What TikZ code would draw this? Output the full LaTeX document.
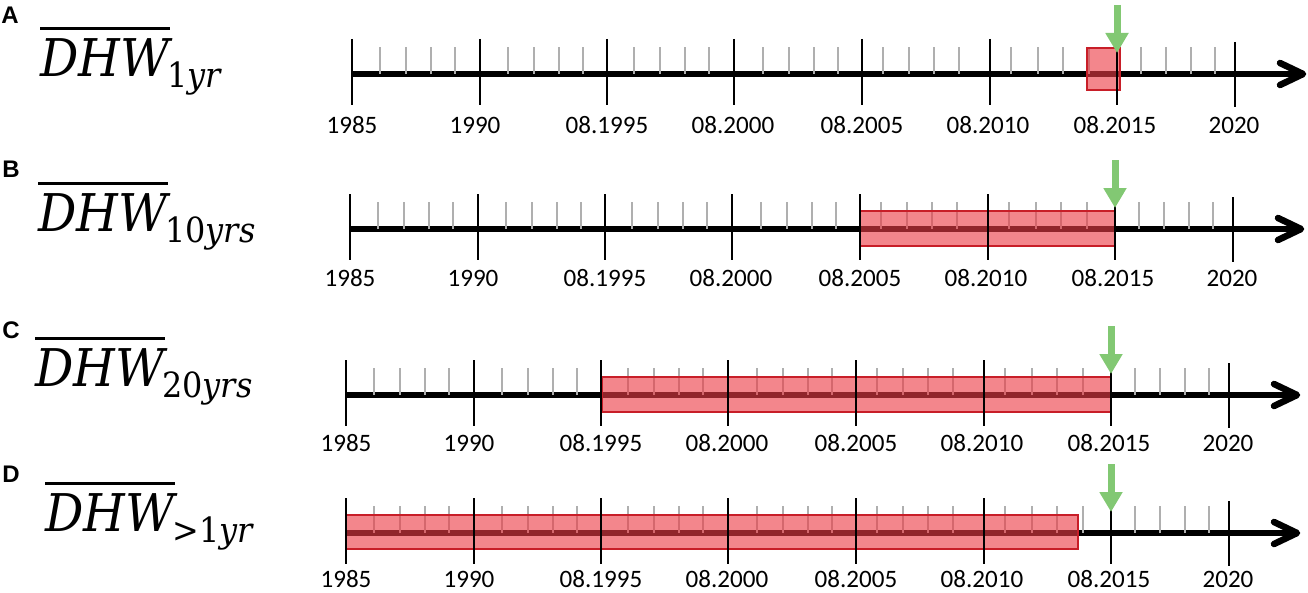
\documentclass[tikz,border=0pt]{standalone}
\usepackage{fontspec}
\newfontfamily\lblfont{Carlito}
\newfontfamily\letterfont{Liberation Sans}
\newfontfamily\dhwfont{DejaVu Serif}[FakeStretch=0.92]
\usetikzlibrary{arrows.meta}
\definecolor{boxfill}{RGB}{235,60,70}
\definecolor{boxline}{RGB}{200,30,40}
\definecolor{minorgray}{RGB}{175,175,175}
\definecolor{arrowgreen}{RGB}{130,200,115}
\tikzset{
  axisline/.style={line width=4.9pt, black},
  axishead/.style={line width=4.9pt, black, line cap=round, line join=round},
  minortick/.style={line width=1.8pt, minorgray},
  majortick/.style={line width=2.2pt, black},
  redbox/.style={fill=boxfill, fill opacity=0.62, draw=boxline, draw opacity=1, line width=1.8pt},
  greenarrow/.style={line width=5.25pt, arrowgreen, -{Triangle[width=16.5pt,length=15pt]}},
  yearlabel/.style={inner sep=0pt, font=\lblfont\fontsize{18.8}{21}\selectfont},
  dhwmain/.style={inner sep=0pt, anchor=base west, font=\dhwfont\itshape\fontsize{39}{42}\selectfont},
  dhwsub/.style={inner sep=0pt, anchor=base west, font=\dhwfont\fontsize{26}{29}\selectfont},
  overbar/.style={line width=1.6pt, black},
  panelletter/.style={inner sep=0pt, anchor=base west, font=\letterfont\bfseries\fontsize{18}{21}\selectfont}
}
% #1 id, #2 axis y, #3 base x, #4 box left, #5 box right, #6 box top, #7 box bottom, #8 label offset
\newcommand\tlpanel[8]{%
  \begin{scope}[shift={(#3,#2)}]
    \draw[axisline] (0,0) -- (951,0);
    \coordinate (hu#1) at (928,-11);
    \coordinate (ht#1) at (951,0);
    \coordinate (hd#1) at (928,11);
    \draw[axishead] (hu#1) -- (ht#1) -- (hd#1);
    \foreach \m in {28,54,79,103,156,182,207,231,282,308,333,357,411,437,462,486,531,557,582,607,659,686,711,737,789,814,839,863}{
      \draw[minortick] (\m,0) -- (\m,-27);
    }
    \draw[redbox] (#4,#6) rectangle (#5,#7);
    \foreach \M/\lab/\dx in {0/1985/0,128/1990/-5,255/08.1995/0,382/08.2000/-1,510/08.2005/0,638/08.2010/-2,765/08.2015/-2}{
      \draw[majortick] (\M,-35) -- (\M,31);
      \node[yearlabel] (y#1\M) at (\M+\dx,#8) {\lab};
    }
    \draw[majortick] (883,-32) -- (883,33);
    \node[yearlabel] (y#1end) at (882,#8) {2020};
    \coordinate (gs#1) at (765,-69);
    \coordinate (ge#1) at (765,-21);
    \draw[greenarrow] (gs#1) -- (ge#1);
  \end{scope}}
% #1 id, #2 x, #3 baseline y, #4 subscript
\newcommand\dhwlabel[4]{%
  \node[dhwmain] (d#1) at (#2,#3) {DHW};
  \node[dhwsub] (s#1) at ([xshift=-2pt,yshift=-8.5pt]d#1.base east) {#4};
  \draw[overbar] ([yshift=7pt]d#1.north west) -- ([yshift=7pt]d#1.north east);}
\begin{document}
\begin{tikzpicture}[x=0.75pt,y=-0.75pt]
  \useasboundingbox (0,0) rectangle (1308,592);
  \tlpanel{A}{74}{352}{735}{768}{-26}{16}{51}
  \tlpanel{B}{229}{350}{510}{765}{-18}{17}{49}
  \tlpanel{C}{395}{346}{256}{765}{-18}{17}{48}
  \tlpanel{D}{533}{346}{0}{732}{-18}{16}{46}
  \node[panelletter] (lA) at (1,24) {A};
  \node[panelletter] (lB) at (2,177) {B};
  \node[panelletter] (lC) at (2,338) {C};
  \node[panelletter] (lD) at (2,482) {D};
  \dhwlabel{A}{40}{76}{1\textit{yr}}
  \dhwlabel{B}{38}{231}{10\textit{yrs}}
  \dhwlabel{C}{35}{386}{20\textit{yrs}}
  \dhwlabel{D}{45}{531}{>1\textit{yr}}
\end{tikzpicture}
\end{document}
